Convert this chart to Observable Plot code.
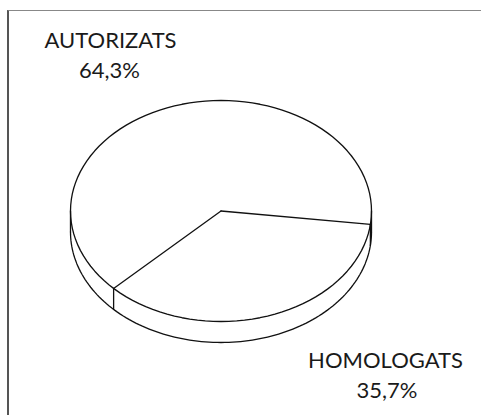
<!DOCTYPE html>
<html><head><meta charset="utf-8">
<script src="https://cdn.jsdelivr.net/npm/d3@7"></script>
<script src="https://cdn.jsdelivr.net/npm/@observablehq/plot@0.6"></script>
<style>
body{margin:0;background:#fff;width:481px;height:415px;overflow:hidden;position:relative}
#frame{position:absolute;left:7px;top:10px;width:480px;height:410px;border-left:2px solid #555;border-top:1px solid #888}
#chart{position:absolute;left:0;top:0}
</style></head><body><div id="frame"></div><div id="chart"></div>
<script>
// Data
const categories = ["AUTORIZATS", "HOMOLOGATS"];
const shares = [64.3, 35.7];
const shareLabels = ["64,3%", "35,7%"];

// Layout constants (pie units: ellipse radius = 1)
const startDeg = 7;          // where the HOMOLOGATS slice begins (clockwise from 3 o'clock)
const depth = 0.19;          // thickness of the pie
const labelPos = {
  "AUTORIZATS": {x: -0.734, y1: -1.543, x2: -0.741, y2: -1.267},
  "HOMOLOGATS": {x: 1.093, y1: 1.353, x2: 1.103, y2: 1.633}
};

const total = d3.sum(shares);
const rad = d => d * Math.PI / 180;
// HOMOLOGATS slice first, going clockwise, then AUTORIZATS
const a0 = rad(startDeg);
const a1 = a0 + shares[1] / total * 2 * Math.PI;
const boundaries = [a0, a1];

const segs = [];
function arc(name, from, to, dy) {
  const n = 120;
  for (let i = 0; i <= n; i++) {
    const t = from + (to - from) * i / n;
    segs.push({seg: name, x: Math.cos(t), y: Math.sin(t) + dy});
  }
}
arc("top", 0, 2 * Math.PI, 0);
arc("bottom", 0, Math.PI, depth);
for (const [i, t] of [0, Math.PI, ...boundaries.filter(b => (b % (2*Math.PI)) > 0 && (b % (2*Math.PI)) < Math.PI)].entries()) {
  segs.push({seg: "v" + i, x: Math.cos(t), y: Math.sin(t)});
  segs.push({seg: "v" + i, x: Math.cos(t), y: Math.sin(t) + depth});
}
boundaries.forEach((t, i) => {
  segs.push({seg: "r" + i, x: 0, y: 0});
  segs.push({seg: "r" + i, x: Math.cos(t), y: Math.sin(t)});
});

const texts = [];
categories.forEach((c, i) => {
  const p = labelPos[c];
  texts.push({x: p.x, y: p.y1, text: c});
  texts.push({x: p.x2, y: p.y2, text: shareLabels[i]});
});

const chart = Plot.plot({
  width: 481,
  height: 415,
  x: {domain: [-1, 1], range: [70, 371], axis: null},
  y: {domain: [-1, 1], range: [100, 321], axis: null},
  style: {background: "transparent", fontFamily: "Lato, sans-serif"},
  marks: [
    Plot.line(segs, {x: "x", y: "y", z: "seg", stroke: "#111", strokeWidth: 1.3, curve: "linear"}),
    Plot.text(texts, {x: "x", y: "y", text: "text", fontSize: 22, fontWeight: 400, fill: "#1a1a1a", textAnchor: "middle", lineAnchor: "middle"})
  ]
});
document.getElementById("chart").appendChild(chart);
</script></body></html>
